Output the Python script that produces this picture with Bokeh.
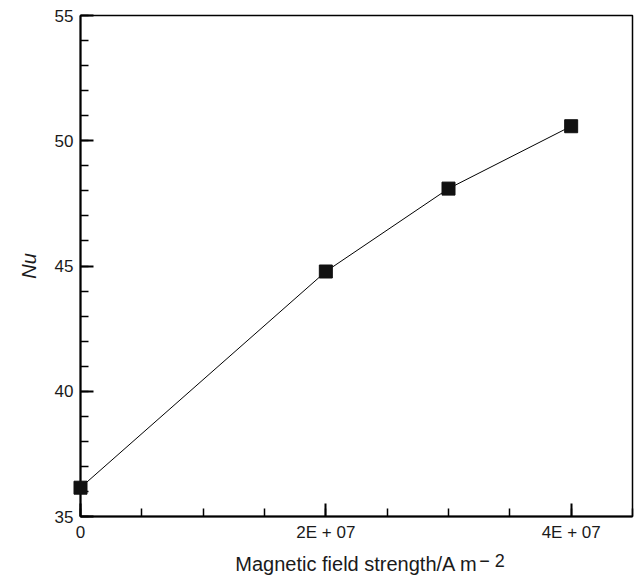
from bokeh.plotting import figure
from bokeh.models import Range1d, FixedTicker
from bokeh.core.properties import value
from bokeh.embed import file_html
from bokeh.resources import INLINE

field = [0, 2e7, 3e7, 4e7]
nu = [36.15, 44.78, 48.09, 50.58]

x_ticks = [0, 2e7, 4e7]
x_tick_labels = {0: "0", 20000000: "2E + 07", 40000000: "4E + 07"}
x_minor = [i * 5e6 for i in range(0, 10)]
y_ticks = [35, 40, 45, 50, 55]
y_minor = list(range(35, 56))

p = figure(output_backend="svg", toolbar_location=None,
           frame_width=552, frame_height=501,
           min_border_left=80, min_border_right=2, min_border_top=15, min_border_bottom=60,
           x_range=Range1d(0, 4.5e7), y_range=Range1d(35, 55))
p.xgrid.visible = False
p.ygrid.visible = False
p.outline_line_color = "black"
p.outline_line_width = 1.5
p.background_fill_color = "white"
p.border_fill_color = "white"

p.line(field, nu, line_color="black", line_width=1, level="overlay")
p.scatter(field, nu, marker="square", size=13, fill_color="#111111",
          line_color="#111111", level="overlay")

font = "Liberation Sans"
for ax in (p.xaxis[0], p.yaxis[0]):
    ax.axis_line_color = "black"
    ax.axis_line_width = 2
    ax.major_tick_in = 13
    ax.major_tick_out = 0
    ax.minor_tick_in = 8
    ax.minor_tick_out = 0
    ax.major_tick_line_width = 2
    ax.minor_tick_line_width = 1.5
    ax.major_tick_line_color = "black"
    ax.minor_tick_line_color = "black"
    ax.major_label_text_font = font
    ax.major_label_text_font_size = "17px"
    ax.major_label_text_color = "#1a1a1a"
    ax.axis_label_text_font = font
    ax.axis_label_text_font_size = "20px"
    ax.axis_label_text_color = "#1a1a1a"

p.xaxis.ticker = FixedTicker(ticks=x_ticks, minor_ticks=x_minor)
p.xaxis.major_label_overrides = x_tick_labels
p.xaxis.major_label_standoff = 6
p.xaxis.axis_label = "Magnetic field strength/A m"
p.xaxis.axis_label_text_font_style = "normal"
p.xaxis.axis_label_standoff = 8

p.yaxis.ticker = FixedTicker(ticks=y_ticks, minor_ticks=y_minor)
p.yaxis.major_label_standoff = 7
p.yaxis.axis_label = "Nu"
p.yaxis.axis_label_text_font_style = "italic"
p.yaxis.axis_label_standoff = 12

p.text(x=[3.25e7], y=[33.22], text=["\u2212 2"], text_font=value(font),
       text_font_size="18px", text_color="#1a1a1a",
       text_baseline="alphabetic", text_align="left", level="overlay")

open("out.html", "w").write(file_html(p, INLINE))
